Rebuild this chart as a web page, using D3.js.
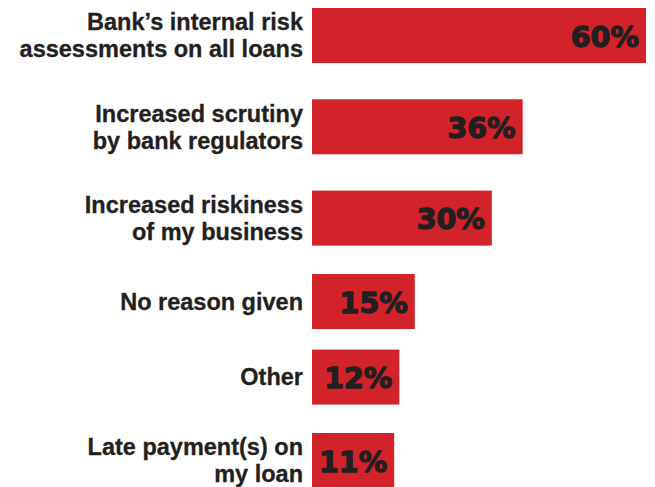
<!DOCTYPE html>
<html>
<head>
<meta charset="utf-8">
<script src="https://cdn.jsdelivr.net/npm/d3@7"></script>
<style>
  html, body { margin: 0; padding: 0; background: #ffffff; }
  svg { display: block; }
</style>
</head>
<body>
<svg id="chart" width="655" height="487"></svg>
<script>
// Reasons given for a loan decision, share of respondents (%)
const categories = [
  "Bank\u2019s internal risk\nassessments on all loans",
  "Increased scrutiny\nby bank regulators",
  "Increased riskiness\nof my business",
  "No reason given",
  "Other",
  "Late payment(s) on\nmy loan"
];
const values = [60, 36, 30, 15, 12, 11];
const valueLabels = ["60%", "36%", "30%", "15%", "12%", "11%"];

const W = 655, H = 487;
const barLeft = 312, barRight = 646;
const barHeight = 55;
const firstCenter = 35.5, lastCenter = 460.5;

const svg = d3.select("#chart");

// Bars start a little before zero so the short bars still hold their labels
const x = d3.scaleLinear().domain([-5, 60]).range([barLeft, barRight]);

// Rows with two-line labels get a bit more vertical room than one-line rows
const lineCounts = categories.map(c => c.split("\n").length);
const steps = lineCounts.slice(1).map((n, i) => 3.8 + (lineCounts[i] + n) / 2);
const offsets = [0, ...d3.cumsum(steps)];
const y = d3.scaleLinear()
  .domain([0, offsets[offsets.length - 1]])
  .range([firstCenter, lastCenter]);

const rows = categories.map((c, i) => ({
  lines: c.split("\n"),
  value: values[i],
  label: valueLabels[i],
  cy: y(offsets[i])
}));

const g = svg.selectAll("g.row").data(rows).join("g").attr("class", "row");

g.append("rect")
  .attr("x", x(-5))
  .attr("y", d => d.cy - barHeight / 2)
  .attr("width", d => x(d.value) - x(-5))
  .attr("height", barHeight)
  .attr("fill", "#d2232a");

// Category labels, right-aligned next to the bars
const fontSize = 23.5, lineH = 27, cap = fontSize * 0.716;
g.append("text")
  .attr("text-anchor", "end")
  .attr("font-family", "'Liberation Sans', Arial, sans-serif")
  .attr("font-weight", "bold")
  .attr("font-size", fontSize)
  .attr("fill", "#231f20")
  .attr("stroke", "#231f20")
  .attr("stroke-width", 0.3)
  .each(function (d) {
    const n = d.lines.length;
    const first = d.cy - ((n - 1) * lineH) / 2 + cap / 2;
    d3.select(this).selectAll("tspan").data(d.lines).join("tspan")
      .attr("x", barLeft - 9)
      .attr("y", (t, k) => first + k * lineH)
      .text(t => t);
  });

// Value labels inside the bar ends
g.append("text")
  .attr("text-anchor", "end")
  .attr("x", d => x(d.value) - 7)
  .attr("y", d => d.cy + 11)
  .attr("font-family", "'DejaVu Sans', sans-serif")
  .attr("font-weight", "bold")
  .attr("font-size", 28.5)
  .attr("fill", "#231f20")
  .attr("stroke", "#231f20")
  .attr("stroke-width", 1.3)
  .attr("stroke-linejoin", "round")
  .text(d => d.label);
</script>
</body>
</html>
